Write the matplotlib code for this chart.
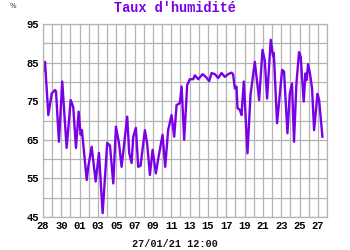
import matplotlib
matplotlib.use("Agg")
import matplotlib.pyplot as plt
import numpy as np

# days since 28 Dec (00:00)
days = [0.11, 0.22, 0.58, 0.95, 1.31, 1.42, 1.74, 2.10, 2.58, 3.02, 3.30, 3.60, 3.89, 4.11, 4.25,
        4.77, 4.94, 5.31, 5.75, 6.11, 6.51, 7.01, 7.31, 7.67, 7.96, 8.29, 8.58, 9.19, 9.41, 9.67,
        9.85, 10.14, 10.39, 10.65, 11.12, 11.37, 11.67, 11.96, 12.32, 12.57, 13.05, 13.34, 13.66,
        14.03, 14.32, 14.58, 14.94, 15.13, 15.41, 15.74, 16.03, 16.39, 16.58, 16.94, 17.42, 17.78,
        18.14, 18.40, 18.76, 19.12, 19.49, 19.85, 20.21, 20.58, 20.75, 20.94, 21.12, 21.23, 21.48,
        21.67, 21.92, 22.32, 22.65, 23.12, 23.37, 23.59, 23.96, 24.21, 24.46, 24.86, 25.11, 25.19,
        25.55, 26.10, 26.31, 26.68, 26.94, 27.18, 27.40, 27.66, 27.95, 28.13, 28.46, 28.65, 28.79,
        28.93, 29.12, 29.37, 29.59, 29.96, 30.13, 30.50]
humidity = [83.0, 85.2, 71.4, 77.0, 77.9, 77.5, 64.5, 80.1, 62.9, 75.3, 73.5, 62.9, 72.3, 66.3, 67.5,
            54.6, 58.0, 63.2, 54.2, 61.6, 46.0, 64.2, 63.5, 53.7, 68.4, 64.2, 58.0, 71.0, 61.6, 59.0,
            65.8, 68.1, 58.0, 58.3, 67.5, 64.0, 55.9, 62.4, 56.3, 60.0, 66.3, 58.0, 67.5,
            71.4, 65.8, 74.0, 74.5, 78.8, 65.0, 79.2, 80.7, 80.7, 81.7, 80.7, 82.0, 81.3,
            80.2, 82.3, 82.0, 81.0, 82.3, 81.3, 82.0, 82.4, 82.0, 78.3, 78.8, 73.2, 72.8,
            71.4, 80.1, 61.5, 76.6, 85.2, 80.0, 75.3, 88.3, 85.5, 75.7, 90.9, 86.7, 87.5,
            69.3, 83.1, 82.7, 66.7, 77.0, 79.6, 64.5, 79.5, 87.7, 86.5, 74.9, 82.2, 80.5,
            84.6, 82.5, 78.3, 67.5, 76.9, 75.5, 65.8]

xtick_pos = list(range(0, 31, 2))
xtick_labels = ["28", "30", "01", "03", "05", "07", "09", "11", "13", "15", "17", "19", "21", "23", "25", "27"]
ytick_pos = [45, 55, 65, 75, 85, 95]

title = "Taux d'humidité"
unit = "%"
stamp = "27/01/21 12:00"

purple = "#7a00e6"
gridc = "#b4b4b4"
mono = "Liberation Mono"

fig = plt.figure(figsize=(3.5, 2.5), dpi=100)
ax = fig.add_axes([43/350, 33/250, 284/350, 193/250])
ax.plot(days, humidity, color=purple, lw=1.7, solid_joinstyle="round")
ax.set_xlim(0, 31)
ax.set_ylim(45, 95)
ax.set_xticks(np.arange(0, 32, 1), minor=True)
ax.set_yticks(np.arange(45, 96, 5), minor=True)
ax.set_xticks(xtick_pos)
ax.set_xticklabels(xtick_labels)
ax.set_yticks(ytick_pos)
ax.grid(True, which="both", color=gridc, lw=0.9)
ax.set_axisbelow(True)
ax.tick_params(which="both", length=0, pad=3)
for lab in ax.get_xticklabels() + ax.get_yticklabels():
    lab.set_fontfamily(mono)
    lab.set_fontweight("bold")
    lab.set_fontsize(7.6)
for s in ax.spines.values():
    s.set_color(gridc)
    s.set_linewidth(0.9)

fig.text(175/350, 1 - 8/250, title, ha="center", va="center", color=purple,
         fontfamily=mono, fontweight="bold", fontsize=9.8)
fig.text(13/350, 1 - 6/250, unit, ha="center", va="center", color="#333333",
         fontfamily="DejaVu Sans", fontsize=5)
fig.text(175/350, 1 - 244/250, stamp, ha="center", va="center", color="#111111",
         fontfamily=mono, fontweight="bold", fontsize=7.4)

fig.savefig("out.png", dpi=100, facecolor="white")
